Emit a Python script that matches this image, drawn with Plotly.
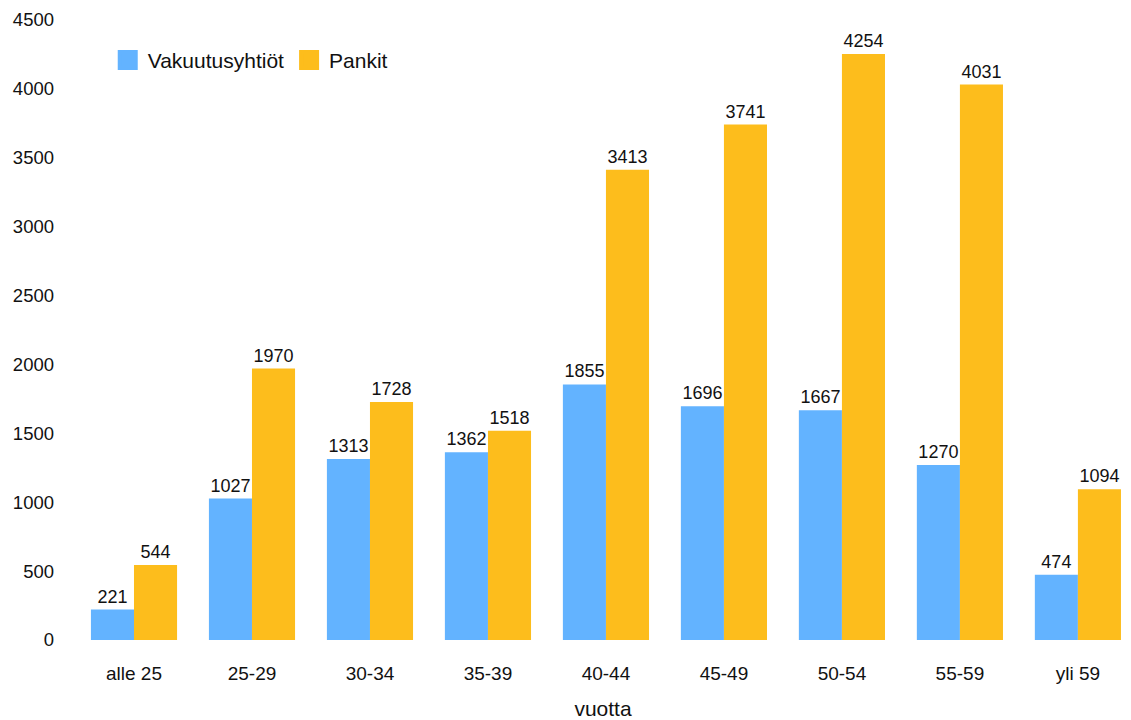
import plotly.graph_objects as go

categories = ['alle 25', '25-29', '30-34', '35-39', '40-44', '45-49', '50-54', '55-59', 'yli 59']
vakuutusyhtiot = [221, 1027, 1313, 1362, 1855, 1696, 1667, 1270, 474]
pankit = [544, 1970, 1728, 1518, 3413, 3741, 4254, 4031, 1094]

BLUE = '#63B3FF'
YELLOW = '#FDBD1C'
FONT = 'Liberation Sans, Arial, sans-serif'

# the page body has an 8px margin, so the figure is a bit smaller than the window
fig = go.Figure()
for name, values, color in [('Vakuutusyhtiöt', vakuutusyhtiot, BLUE), ('Pankit', pankit, YELLOW)]:
    fig.add_trace(go.Bar(
        x=categories, y=values, name=name,
        marker=dict(color=color, line=dict(width=0)),
        text=values, textposition='outside', cliponaxis=False,
        textfont=dict(size=18, color='#111111'),
        showlegend=False,
    ))
    # legend-only entry with a bigger square swatch
    fig.add_trace(go.Scatter(
        x=[None], y=[None], mode='markers', name=name,
        marker=dict(symbol='square', size=21, color=color,
                    line=dict(width=4, color=color)),
    ))

fig.update_layout(
    width=1123, height=712,
    barmode='group', bargap=0.27, bargroupgap=0,
    plot_bgcolor='white', paper_bgcolor='white',
    font=dict(family=FONT, size=18.5, color='#111111'),
    margin=dict(l=67, r=0, t=12, b=80),
    legend=dict(
        orientation='h', x=0.031, y=0.935, xanchor='left', yanchor='middle',
        font=dict(size=21), bgcolor='rgba(0,0,0,0)', itemsizing='trace',
        itemwidth=30, tracegroupgap=0,
    ),
)
fig.update_xaxes(
    range=[-0.5, 8.45], showgrid=False, showline=False, zeroline=False,
    ticks='', ticklabelstandoff=20, tickfont=dict(size=19),
    title=dict(text='vuotta', standoff=20, font=dict(size=21)),
)
fig.update_yaxes(
    range=[0, 4500], dtick=500, showgrid=False, showline=False, zeroline=False,
    ticks='', ticklabelstandoff=20,
)

fig.write_html('out.html')
